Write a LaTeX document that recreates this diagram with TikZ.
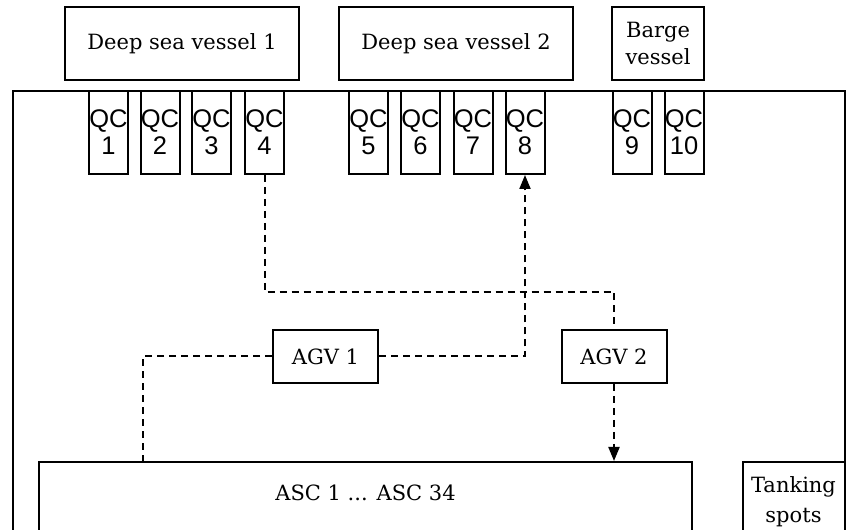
\documentclass[tikz,border=0pt]{standalone}
\usepackage{fontspec}
\setmainfont{DejaVu Serif}
\newfontfamily\qcfont{Liberation Sans}
\usetikzlibrary{arrows.meta}
\begin{document}
\begin{tikzpicture}[x=1pt,y=1pt,
  box/.style={draw, line width=2pt, inner sep=0pt, align=center,
    font=\fontsize{21}{28}\selectfont},
  vessel/.style={box, minimum height=73pt},
  crane/.style={draw, line width=2pt, inner sep=0pt, align=center,
    minimum width=39pt, minimum height=83pt,
    font=\qcfont\fontsize{25.5}{27}\selectfont},
  agv/.style={box, minimum width=105pt, minimum height=53pt},
  route/.style={line width=2pt, dash pattern=on 7pt off 5pt},
  tip/.style={-{Triangle[length=14pt,width=11pt]}}
]
\useasboundingbox (0,0) rectangle (846,530);
\clip (0,0) rectangle (846,530);

% yard outline
\draw[line width=2pt] (13,-10) -- (13,439) -- (845,439) -- (845,-10);

% vessels at the quay
\node[vessel, minimum width=234pt] (dsv1) at (182,486.5) {Deep sea vessel 1};
\node[vessel, minimum width=234pt] (dsv2) at (456,486.5) {Deep sea vessel 2};
\node[vessel, minimum width=92pt] (barge) at (658,486.5) {Barge\\vessel};

% quay cranes
\foreach \i/\x in {1/108.5,2/160,3/211.5,4/264.5,5/368.5,6/420.5,7/473,8/525,9/632,10/684}
  \node[crane] (qc\i) at (\x,397.5) {QC\\\i};

% automated guided vehicles
\node[agv] (agv1) at (325.5,173.5) {AGV 1};
\node[agv] (agv2) at (614,173.5) {AGV 2};

% stacking area and tanking spots
\node[box, anchor=north west, minimum width=653pt, minimum height=100pt]
  (asc) at (38,69) {\raisebox{11pt}[0pt][0pt]{ASC 1 ... ASC 34}};
\node[box, anchor=north west, minimum width=110pt, minimum height=100pt]
  (tank) at (742,69) {\raisebox{5pt}[0pt][0pt]{\hspace*{-9pt}\begin{tabular}{@{}c@{}}Tanking\\[2pt]spots\end{tabular}}};

% routes
\coordinate (turn) at (264.5,238);
\coordinate (ascin) at (143,69);
\draw[route] (qc4.south) -- (turn) -| (agv2.north);
\draw[route, tip] (agv1.east) -| (qc8.south);
\draw[route] (agv1.west) -| (ascin);
\draw[route, tip] (agv2.south) -- (agv2.south |- asc.north);
\end{tikzpicture}
\end{document}
